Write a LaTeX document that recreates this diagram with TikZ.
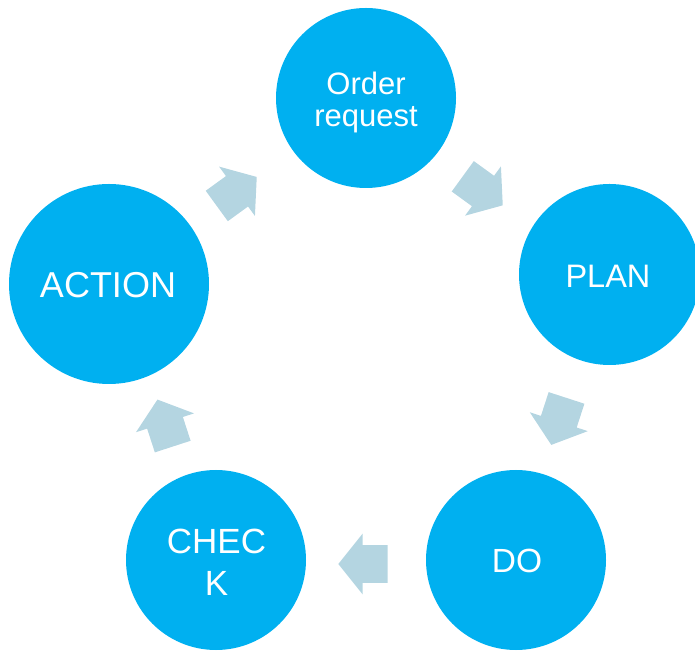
\documentclass[tikz,border=0pt]{standalone}
\usepackage{fontspec}
\setmainfont{Liberation Sans}
\definecolor{cyclecyan}{RGB}{0,176,240}
\definecolor{arrowgrey}{RGB}{180,213,225}
\begin{document}
\begin{tikzpicture}[x=1pt,y=1pt,
  bubble/.style={circle, fill=cyclecyan, draw=none, inner sep=0pt, minimum size=#1},
  bubble/.default=180pt,
  word/.style={text=white, anchor=base, inner sep=0pt, font=\fontsize{#1}{#1}\selectfont},
  word/.default=31,
  cyclearrow/.pic={
    \fill[arrowgrey] (-25,-18.8) -- (0,-18.8) -- (0,-30.5) -- (24.4,0)
      -- (0,30.5) -- (0,18.8) -- (-25,18.8) -- cycle;
  }]
\clip (0,0) rectangle (695,650);

% the five stages of the cycle
\node[bubble] (order)  at (366,552)     {};
\node[bubble=181pt] (plan) at (609.5,375.5) {};
\node[bubble] (do)     at (516,90)      {};
\node[bubble] (check)  at (216,90)      {};
\node[bubble=200pt] (action) at (109,366) {};

% stage names
\node[word] (order-a)  at (366,555.7) {Order};
\node[word] (order-b)  at (366,523.3) {request};
\node[word=32.5] (plan-t)   at (608,362.7) {PLAN};
\node[word=33.5] (do-t)     at (517,77.7)  {DO};
\node[word=35] (check-a)  at (216.5,96.7)  {CHEC};
\node[word=35] (check-b)  at (216.5,55)    {K};
\node[word=36] (action-t) at (108,352.3) {ACTION};

% block arrows running clockwise between the stages
\pic[rotate=-36]  at (483,459)     {cyclearrow};
\pic[rotate=-108] at (558.8,228.3) {cyclearrow};
\pic[rotate=180]  at (362.7,86)    {cyclearrow};
\pic[rotate=108]  at (165,227.2)   {cyclearrow};
\pic[rotate=36]   at (237,458.7)   {cyclearrow};
\end{tikzpicture}
\end{document}
